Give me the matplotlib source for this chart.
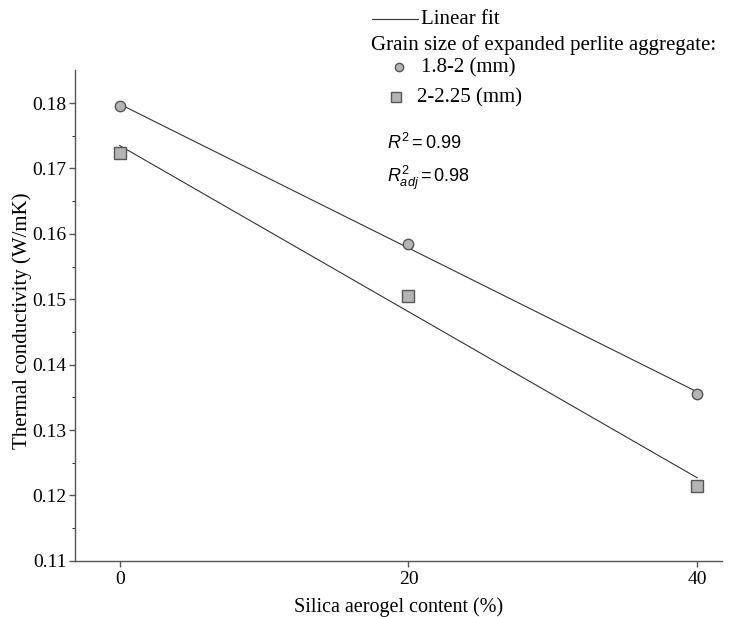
import numpy as np
import matplotlib
matplotlib.use('Agg')
import matplotlib.pyplot as plt
from matplotlib.lines import Line2D

plt.rcParams['font.family'] = 'Liberation Serif'
plt.rcParams['mathtext.fontset'] = 'custom'
plt.rcParams['mathtext.it'] = 'Liberation Sans:italic'
plt.rcParams['mathtext.rm'] = 'Liberation Sans'

# Dados
aerogel = [0, 20, 40]
k_18_2 = [0.1795, 0.1585, 0.1355]
k_2_225 = [0.1723, 0.1505, 0.1215]
xticks = [0, 20, 40]
yticks = [0.11, 0.12, 0.13, 0.14, 0.15, 0.16, 0.17, 0.18]

fig = plt.figure(figsize=(7.35, 6.17), dpi=100)
ax = fig.add_axes([0.102, 0.091, 0.880, 0.795])

marker_fc = '#b4b4b4'
marker_ec = '#555555'

# ajustes lineares
xa = np.array(aerogel)
for yy in (k_18_2, k_2_225):
    a, b = np.polyfit(xa, yy, 1)
    ax.plot(xa, a * xa + b, color='#333333', lw=0.8, zorder=2)

ax.plot(aerogel, k_18_2, 'o', ms=7.5, mfc=marker_fc, mec=marker_ec, mew=1.0, zorder=3)
ax.plot(aerogel, k_2_225, 's', ms=8.5, mfc=marker_fc, mec=marker_ec, mew=1.0, zorder=3)

ax.set_xlim(-3.1, 41.7)
ax.set_ylim(0.11, 0.185)
ax.set_xticks(xticks)
ax.set_yticks(yticks)
ax.set_yticks(np.arange(0.115, 0.185, 0.01), minor=True)
ax.set_yticklabels(['%.2f' % v for v in yticks])
ax.tick_params(axis='both', direction='out', labelsize=14, color='#555555', width=1, pad=2)
ax.tick_params(axis='y', length=4)
ax.tick_params(axis='y', which='minor', length=2.5)
ax.tick_params(axis='x', length=4, pad=3)
for s in ('top', 'right'):
    ax.spines[s].set_visible(False)
for s in ('left', 'bottom'):
    ax.spines[s].set_color('#555555')
    ax.spines[s].set_linewidth(1.0)

ax.set_xlabel('Silica aerogel content (%)', fontsize=14.5)
ax.xaxis.set_label_coords(0.5, -0.074)
ax.set_ylabel('Thermal conductivity (W/mK)', fontsize=15)
ax.yaxis.set_label_coords(-0.066, 0.49)

# legenda manual
W, H = 735.0, 617.0
def fx(px):
    return px / W
def fy(py):
    return 1 - py / H

fig.add_artist(Line2D([fx(372), fx(418)], [fy(19), fy(19)], color='#333333', lw=0.8))
fig.text(fx(421), fy(19), 'Linear fit', fontsize=15, va='center')
fig.text(fx(371), fy(45), 'Grain size of expanded perlite aggregate:', fontsize=15, va='center')
fig.add_artist(Line2D([fx(399)], [fy(67)], marker='o', ms=6, mfc=marker_fc, mec=marker_ec, ls='none'))
fig.text(fx(421), fy(68), '1.8-2 (mm)', fontsize=15, va='center')
fig.add_artist(Line2D([fx(396)], [fy(97)], marker='s', ms=7, mfc=marker_fc, mec=marker_ec, ls='none'))
fig.text(fx(417), fy(98), '2-2.25 (mm)', fontsize=15, va='center')

fig.text(fx(387), fy(143), r'$R^2 = \mathit{0.99}$', fontsize=13, va='center')
fig.text(fx(387), fy(178), r'$R^2_{adj} = \mathit{0.98}$', fontsize=13, va='center')

fig.savefig('out.png', dpi=100)
